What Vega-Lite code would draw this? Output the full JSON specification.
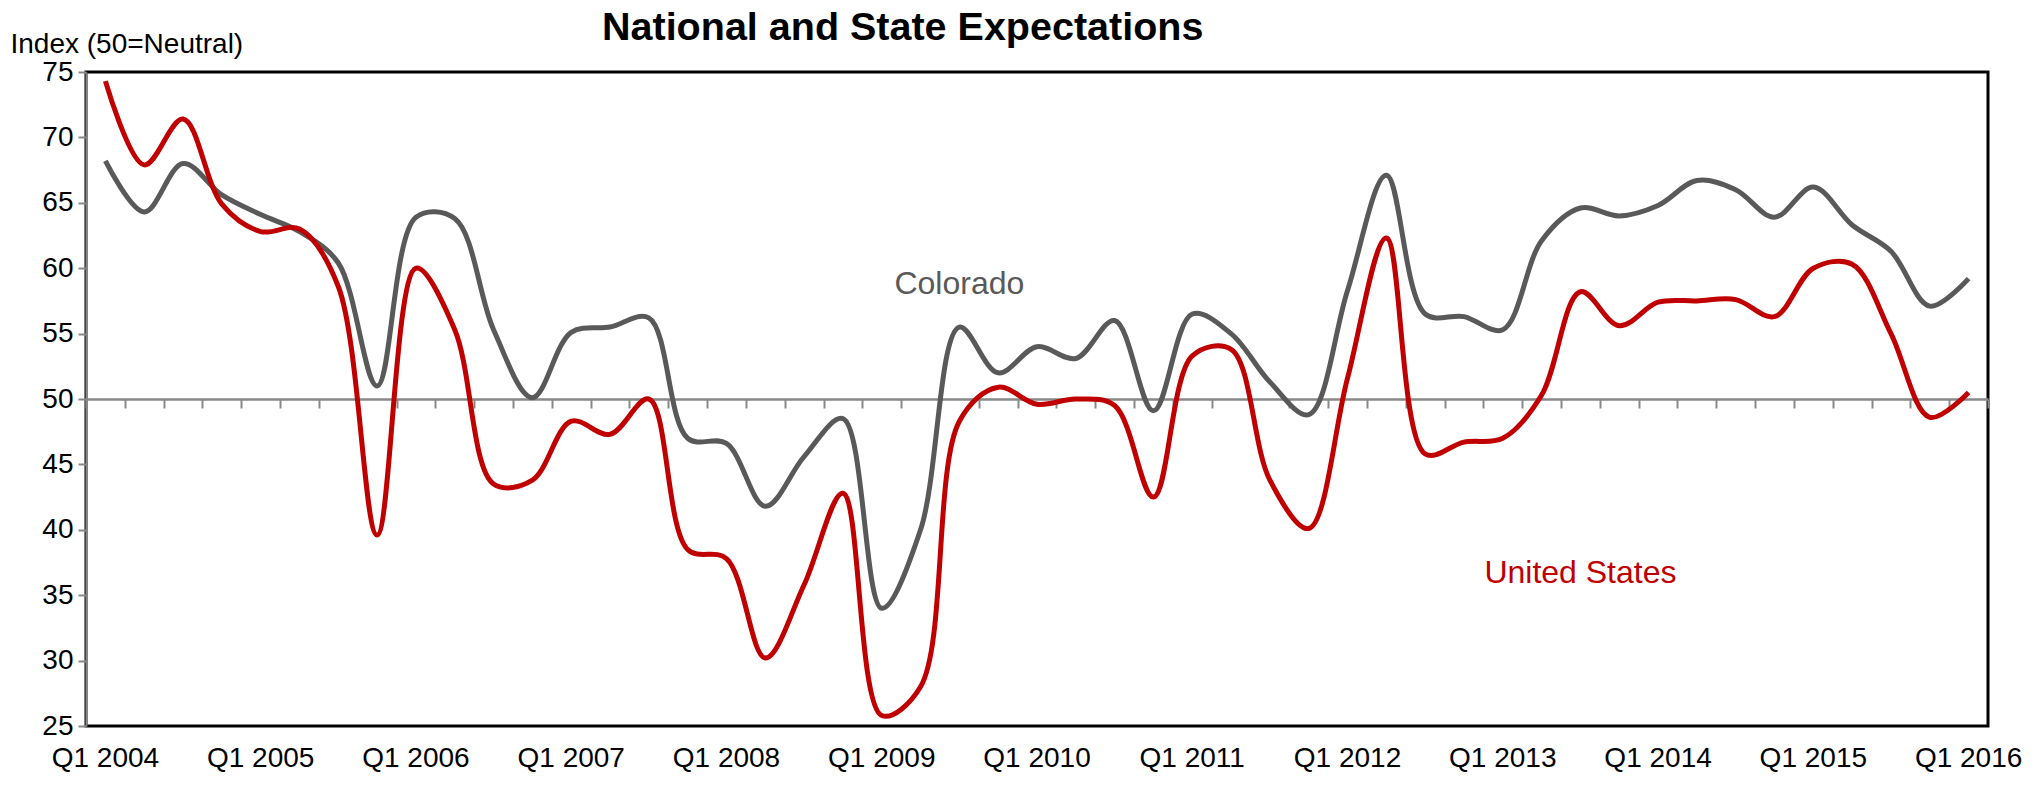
{
  "$schema": "https://vega.github.io/schema/vega-lite/v6.json",
  "width": 1902,
  "height": 654,
  "autosize": {"type": "none"},
  "padding": {"left": 86, "top": 72, "right": 55, "bottom": 60},
  "background": "white",
  "config": {"view": {"stroke": "black", "strokeWidth": 3}, "font": "Liberation Sans"},
  "title": {"text": "National and State Expectations", "orient": "none", "fontSize": 39.5, "fontWeight": "bold", "font": "Liberation Sans", "anchor": "start", "frame": "group", "dx": 516, "dy": -32, "baseline": "alphabetic", "color": "black"},
  "data": {"values": [
    {"q": "Q1 2004", "Colorado": 68.2, "US": 74.3},
    {"q": "Q2 2004", "Colorado": 64.3, "US": 67.9},
    {"q": "Q3 2004", "Colorado": 68.0, "US": 71.4},
    {"q": "Q4 2004", "Colorado": 65.6, "US": 64.9},
    {"q": "Q1 2005", "Colorado": 64.1, "US": 62.8},
    {"q": "Q2 2005", "Colorado": 62.8, "US": 63.0},
    {"q": "Q3 2005", "Colorado": 60.4, "US": 58.6},
    {"q": "Q4 2005", "Colorado": 51.0, "US": 39.6},
    {"q": "Q1 2006", "Colorado": 63.9, "US": 60.0},
    {"q": "Q2 2006", "Colorado": 63.8, "US": 55.3},
    {"q": "Q3 2006", "Colorado": 55.3, "US": 43.5},
    {"q": "Q4 2006", "Colorado": 50.1, "US": 43.8},
    {"q": "Q1 2007", "Colorado": 55.1, "US": 48.3},
    {"q": "Q2 2007", "Colorado": 55.5, "US": 47.3},
    {"q": "Q3 2007", "Colorado": 56.2, "US": 50.0},
    {"q": "Q4 2007", "Colorado": 47.0, "US": 38.5},
    {"q": "Q1 2008", "Colorado": 46.6, "US": 37.8},
    {"q": "Q2 2008", "Colorado": 41.8, "US": 30.2},
    {"q": "Q3 2008", "Colorado": 45.6, "US": 35.8},
    {"q": "Q4 2008", "Colorado": 48.5, "US": 42.8},
    {"q": "Q1 2009", "Colorado": 34.0, "US": 25.8},
    {"q": "Q2 2009", "Colorado": 40.0, "US": 28.0},
    {"q": "Q3 2009", "Colorado": 55.5, "US": 48.3},
    {"q": "Q4 2009", "Colorado": 52.0, "US": 50.9},
    {"q": "Q1 2010", "Colorado": 54.0, "US": 49.6},
    {"q": "Q2 2010", "Colorado": 53.1, "US": 50.0},
    {"q": "Q3 2010", "Colorado": 56.0, "US": 49.5},
    {"q": "Q4 2010", "Colorado": 49.1, "US": 42.5},
    {"q": "Q1 2011", "Colorado": 56.5, "US": 53.3},
    {"q": "Q2 2011", "Colorado": 55.0, "US": 53.8},
    {"q": "Q3 2011", "Colorado": 51.3, "US": 43.8},
    {"q": "Q4 2011", "Colorado": 48.8, "US": 40.1},
    {"q": "Q1 2012", "Colorado": 58.3, "US": 51.6},
    {"q": "Q2 2012", "Colorado": 67.1, "US": 62.3},
    {"q": "Q3 2012", "Colorado": 56.5, "US": 45.8},
    {"q": "Q4 2012", "Colorado": 56.3, "US": 46.7},
    {"q": "Q1 2013", "Colorado": 55.3, "US": 47.0},
    {"q": "Q2 2013", "Colorado": 62.1, "US": 50.3},
    {"q": "Q3 2013", "Colorado": 64.6, "US": 58.2},
    {"q": "Q4 2013", "Colorado": 64.0, "US": 55.6},
    {"q": "Q1 2014", "Colorado": 64.8, "US": 57.4},
    {"q": "Q2 2014", "Colorado": 66.7, "US": 57.5},
    {"q": "Q3 2014", "Colorado": 66.0, "US": 57.6},
    {"q": "Q4 2014", "Colorado": 63.9, "US": 56.3},
    {"q": "Q1 2015", "Colorado": 66.2, "US": 60.0},
    {"q": "Q2 2015", "Colorado": 63.3, "US": 60.3},
    {"q": "Q3 2015", "Colorado": 61.3, "US": 55.0},
    {"q": "Q4 2015", "Colorado": 57.1, "US": 48.6},
    {"q": "Q1 2016", "Colorado": 59.2, "US": 50.5}
  ]},
  "resolve": {"axis": {"x": "independent"}},
  "layer": [
    {
      "mark": {"type": "line", "interpolate": "catmull-rom", "strokeWidth": 5, "color": "#595959"},
      "encoding": {
        "x": {"field": "q", "type": "ordinal", "sort": null, "bandPosition": 0.5,
              "scale": {"type": "band", "paddingInner": 0, "paddingOuter": 0},
              "axis": {"orient": "bottom", "title": null, "domain": false, "ticks": false, "grid": false, "labelAngle": 0,
                       "values": ["Q1 2004","Q1 2005","Q1 2006","Q1 2007","Q1 2008","Q1 2009","Q1 2010","Q1 2011","Q1 2012","Q1 2013","Q1 2014","Q1 2015","Q1 2016"],
                       "labelFont": "Liberation Sans", "labelFontSize": 28, "labelColor": "black", "labelPadding": 18}},
        "y": {"field": "Colorado", "type": "quantitative",
              "scale": {"domain": [25, 75], "nice": false, "zero": false},
              "axis": {"title": "Index (50=Neutral)", "titleAngle": 0, "titleAlign": "left", "titleBaseline": "alphabetic",
                       "titleX": -76, "titleY": -20, "titleFont": "Liberation Sans", "titleFontSize": 28, "titleFontWeight": "normal", "titleColor": "black",
                       "values": [25, 30, 35, 40, 45, 50, 55, 60, 65, 70, 75], "labelFont": "Liberation Sans", "labelFontSize": 28, "labelColor": "black",
                       "labelPadding": 5, "tickColor": "#888888", "tickSize": 8, "tickWidth": 2, "domainColor": "#888888", "domainWidth": 2, "grid": false}}
      }
    },
    {
      "mark": {"type": "line", "interpolate": "catmull-rom", "strokeWidth": 5, "color": "#C00000"},
      "encoding": {
        "x": {"field": "q", "type": "ordinal", "sort": null, "bandPosition": 0.5,
              "axis": {"orient": "bottom", "offset": -327, "labels": false, "title": null, "tickBand": "extent", "tickColor": "#888888", "tickSize": 9, "tickWidth": 2,
                       "domainColor": "#888888", "domainWidth": 2.5, "grid": false}},
        "y": {"field": "US", "type": "quantitative",
              "axis": {"title": "Index (50=Neutral)", "titleAngle": 0, "titleAlign": "left", "titleBaseline": "alphabetic",
                       "titleX": -76, "titleY": -20, "titleFont": "Liberation Sans", "titleFontSize": 28, "titleFontWeight": "normal", "titleColor": "black",
                       "values": [25, 30, 35, 40, 45, 50, 55, 60, 65, 70, 75], "labelFont": "Liberation Sans", "labelFontSize": 28, "labelColor": "black",
                       "labelPadding": 5, "tickColor": "#888888", "tickSize": 8, "tickWidth": 2, "domainColor": "#888888", "domainWidth": 2, "grid": false}}
      }
    },
    {
      "data": {"values": [
        {"q": "Q3 2009", "v": 58.8, "label": "Colorado", "s": "Colorado"},
        {"q": "Q3 2013", "v": 36.7, "label": "United States", "s": "United States"}
      ]},
      "mark": {"type": "text", "font": "Liberation Sans", "fontSize": 32, "align": "center", "baseline": "middle"},
      "encoding": {
        "x": {"field": "q", "type": "ordinal", "sort": null, "bandPosition": 0.5, "axis": null},
        "y": {"field": "v", "type": "quantitative",
              "axis": {"title": "Index (50=Neutral)", "titleAngle": 0, "titleAlign": "left", "titleBaseline": "alphabetic",
                       "titleX": -76, "titleY": -20, "titleFont": "Liberation Sans", "titleFontSize": 28, "titleFontWeight": "normal", "titleColor": "black",
                       "values": [25, 30, 35, 40, 45, 50, 55, 60, 65, 70, 75], "labelFont": "Liberation Sans", "labelFontSize": 28, "labelColor": "black",
                       "labelPadding": 5, "tickColor": "#888888", "tickSize": 8, "tickWidth": 2, "domainColor": "#888888", "domainWidth": 2, "grid": false}},
        "text": {"field": "label"},
        "color": {"field": "s", "type": "nominal", "scale": {"domain": ["Colorado", "United States"], "range": ["#595959", "#C00000"]}, "legend": null}
      }
    }
  ]
}
